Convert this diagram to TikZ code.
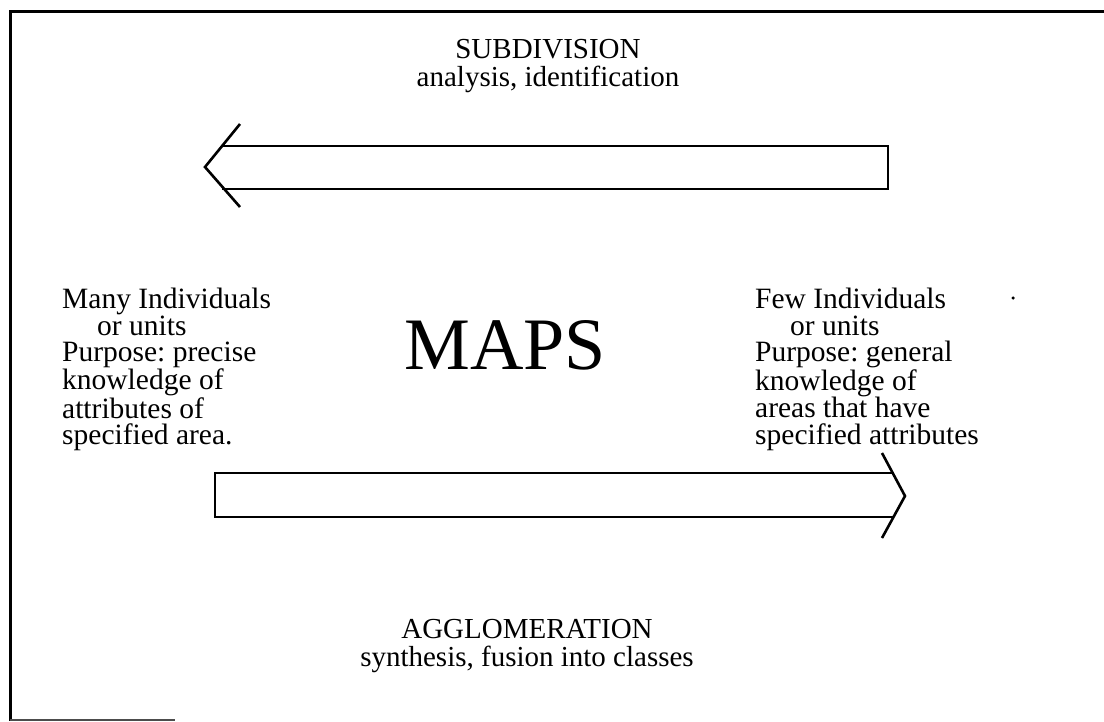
\documentclass[tikz,border=0pt]{standalone}
\usepackage{fontspec}
\setmainfont{Liberation Serif}
\frenchspacing
\begin{document}
\begin{tikzpicture}[x=1pt,y=-1pt,
  frame/.style={line width=3pt,black},
  bigarrow/.style={line width=2.6pt,black,line join=miter},
  label/.style={inner sep=0pt,font=\fontsize{29}{28}\selectfont},
  side/.style={inner sep=0pt,align=left,anchor=north west,font=\fontsize{29.5}{26.6}\selectfont}]
\useasboundingbox (0,0) rectangle (1104,721);
% frame
\draw[frame] (1104,11) -- (10,11) -- (10,721);
\draw[line width=2pt,black!70] (10,719.5) -- (175,719.5);
% top arrow (pointing left)
\coordinate (ta1) at (240,124);
\coordinate (tat) at (205,167);
\coordinate (ta2) at (240,207);
\draw[bigarrow] (ta1) -- (tat) -- (ta2);
\draw[bigarrow] (222,146) -- (888,146) -- (888,189) -- (222,189);
% bottom arrow (pointing right)
\coordinate (ba1) at (882,453);
\coordinate (bat) at (905,496);
\coordinate (ba2) at (882,538);
\draw[bigarrow] (ba1) -- (bat) -- (ba2);
\draw[bigarrow] (893,473) -- (215,473) -- (215,517) -- (893,517);
% texts
\node[label,align=center] (sub) at (548,66) {SUBDIVISION\\analysis, identification};
\node[label,align=center] (agg) at (527,646) {AGGLOMERATION\\synthesis, fusion into classes};
\node[inner sep=0pt,font=\fontsize{74}{74}\selectfont] (maps) at (505,345) {MAPS};
\node[side] (left) at (62,288) {Many Individuals\\\hspace*{35pt}or units\\Purpose: precise\\knowledge of\\attributes of\\specified area.};
\node[side] (right) at (755,288) {Few Individuals\\\hspace*{35pt}or units\\Purpose: general\\knowledge of\\areas that have\\specified attributes};
\node[circle,fill=black,inner sep=0pt,minimum size=3.5pt] (dot) at (1013,298) {};
\end{tikzpicture}
\end{document}
